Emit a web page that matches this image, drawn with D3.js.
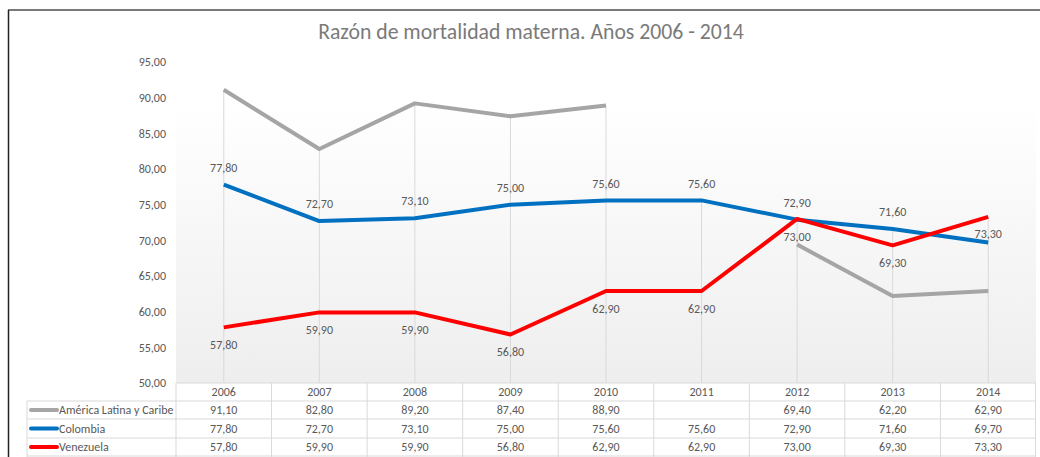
<!DOCTYPE html>
<html><head><meta charset="utf-8">
<script src="https://cdn.jsdelivr.net/npm/d3@7"></script>
<style>body{margin:0;background:#fff}svg{display:block}text{font-family:Carlito,Calibri,Lato,sans-serif}</style>
</head><body>
<svg id="c" width="1040" height="457"></svg>
<script>
const title = "Razón de mortalidad materna. Años 2006 - 2014";
const years = ["2006","2007","2008","2009","2010","2011","2012","2013","2014"];
const seriesNames = ["América Latina y Caribe","Colombia","Venezuela"];
const america = [91.1, 82.8, 89.2, 87.4, 88.9, null, 69.4, 62.2, 62.9];
const colombia = [77.8, 72.7, 73.1, 75.0, 75.6, 75.6, 72.9, 71.6, 69.7];
const venezuela = [57.8, 59.9, 59.9, 56.8, 62.9, 62.9, 73.0, 69.3, 73.3];
const yTicks = [50,55,60,65,70,75,80,85,90,95];
const colors = ["#a5a5a5","#0070c0","#ff0000"];

const svg = d3.select("#c");
const fmt = v => v == null ? "" : d3.format(".2f")(v).replace(".", ",");
const plotL = 176, plotR = 1036, plotT = 62, plotB = 383;
const x = d3.scaleBand().domain(years).range([plotL, plotR]);
const y = d3.scaleLinear().domain([50, 95]).range([plotB, plotT]);
const cx = d => x(d) + x.bandwidth()/2;
const txt = "#595959", grid = "#d9d9d9";

// frame
svg.append("line").attr("x1",8).attr("x2",1040).attr("y1",10).attr("y2",10).attr("stroke","#7a7a7a").attr("stroke-width",2);
svg.append("line").attr("x1",8.5).attr("x2",8.5).attr("y1",10).attr("y2",457).attr("stroke","#222").attr("stroke-width",1.5);

// plot background gradient
const defs = svg.append("defs");
const g = defs.append("linearGradient").attr("id","bg").attr("x1",0).attr("y1",0).attr("x2",0).attr("y2",1);
g.append("stop").attr("offset","0").attr("stop-color","#ffffff");
g.append("stop").attr("offset","0.13").attr("stop-color","#ffffff");
g.append("stop").attr("offset","1").attr("stop-color","#eeeeee");
svg.append("rect").attr("x",plotL).attr("y",plotT).attr("width",plotR-plotL).attr("height",plotB-plotT).attr("fill","url(#bg)");

// title
const t = svg.append("text").attr("x",531).attr("y",39).attr("text-anchor","middle")
  .attr("fill","#7a7a7a").attr("font-size",18).text(title);
const tw = t.node().getComputedTextLength();
t.attr("font-size", 18*426/tw);

// y axis labels
const yAxis = d3.axisLeft(y).tickValues(yTicks).tickFormat(fmt).tickSize(0).tickPadding(0);
const ya = svg.append("g").attr("transform",`translate(166,0)`).call(yAxis);
ya.select(".domain").remove();
ya.selectAll("text").attr("fill",txt).attr("font-size",12).style("font-family","Carlito,Calibri,Lato,sans-serif");

// drop lines
const all = [america, colombia, venezuela];
years.forEach((yr,i) => {
  const mx = d3.max(all, s => s[i]);
  svg.append("line").attr("x1",cx(yr)).attr("x2",cx(yr)).attr("y1",y(mx)).attr("y2",plotB)
    .attr("stroke",grid).attr("stroke-width",1);
});

// lines
all.forEach((s,k) => {
  const line = d3.line().defined(d => d != null).x((d,i) => cx(years[i])).y(d => y(d));
  svg.append("path").datum(s).attr("d",line).attr("fill","none").attr("stroke",colors[k])
    .attr("stroke-width",4).attr("stroke-linejoin","round");
});

// data labels
colombia.forEach((v,i) => {
  if (i === years.length-1) return;
  svg.append("text").attr("x",cx(years[i])).attr("y",y(v)-17).attr("dy","0.35em").attr("text-anchor","middle")
    .attr("fill",txt).attr("font-size",12).text(fmt(v));
});
venezuela.forEach((v,i) => {
  svg.append("text").attr("x",cx(years[i])).attr("y",y(v)+17.5).attr("dy","0.35em").attr("text-anchor","middle")
    .attr("fill",txt).attr("font-size",12).text(fmt(v));
});

// data table
const rowsY = [383, 401, 419, 438, 456];
const tableL = 27;
const tg = svg.append("g");
tg.append("line").attr("x1",plotL).attr("x2",plotR).attr("y1",rowsY[0]).attr("y2",rowsY[0]).attr("stroke",grid);
for (let r = 1; r < rowsY.length; r++) {
  tg.append("line").attr("x1",tableL).attr("x2",plotR).attr("y1",rowsY[r]).attr("y2",rowsY[r]).attr("stroke",grid);
}
x.domain().forEach(yr => {
  tg.append("line").attr("x1",x(yr)).attr("x2",x(yr)).attr("y1",rowsY[0]).attr("y2",457).attr("stroke",grid);
});
tg.append("line").attr("x1",plotR-0.5).attr("x2",plotR-0.5).attr("y1",rowsY[0]).attr("y2",457).attr("stroke",grid);
tg.append("line").attr("x1",tableL).attr("x2",tableL).attr("y1",rowsY[1]).attr("y2",457).attr("stroke",grid);
years.forEach(yr => {
  tg.append("text").attr("x",cx(yr)).attr("y",(rowsY[0]+rowsY[1])/2).attr("dy","0.35em").attr("text-anchor","middle")
    .attr("fill",txt).attr("font-size",12).text(yr);
});
all.forEach((s,k) => {
  const my = (rowsY[k+1]+rowsY[k+2])/2;
  tg.append("line").attr("x1",31).attr("x2",57).attr("y1",my).attr("y2",my).attr("stroke",colors[k])
    .attr("stroke-width",4).attr("stroke-linecap","round");
  tg.append("text").attr("x",59).attr("y",my).attr("dy","0.35em").attr("fill",txt).attr("font-size",12).text(seriesNames[k]);
  s.forEach((v,i) => {
    tg.append("text").attr("x",cx(years[i])).attr("y",my).attr("dy","0.35em").attr("text-anchor","middle")
      .attr("fill",txt).attr("font-size",12).text(fmt(v));
  });
});
</script>
</body></html>
